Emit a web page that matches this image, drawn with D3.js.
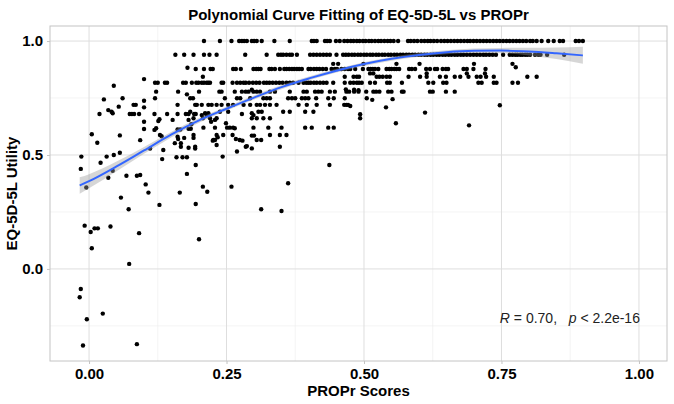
<!DOCTYPE html>
<html><head><meta charset="utf-8">
<script src="https://cdn.jsdelivr.net/npm/d3@7"></script>
<style>body{margin:0;background:#fff}svg{display:block}</style>
</head><body>
<script>
// ---------- data ----------
const chartTitle = "Polynomial Curve Fitting of EQ-5D-5L vs PROPr";
const xTitle = "PROPr Scores";
const yTitle = "EQ-5D-5L Utility";
const xTicks = [0, 0.25, 0.5, 0.75, 1.0];
const xTickLabels = ["0.00", "0.25", "0.50", "0.75", "1.00"];
const yTicks = [0, 0.5, 1.0];
const yTickLabels = ["0.0", "0.5", "1.0"];
const xMinor = [0.125, 0.375, 0.625, 0.875];
const yMinor = [-0.25, 0.25, 0.75];
const xLimits = [-0.071, 1.051];
const yLimits = [-0.404, 1.066];

// fitted polynomial curve and its confidence band
const fitX  = [-0.017, 0.0, 0.05, 0.1, 0.15, 0.2, 0.25, 0.3, 0.35, 0.4, 0.45, 0.5, 0.55, 0.6, 0.65, 0.7, 0.75, 0.8, 0.85, 0.898];
const fitY  = [0.366, 0.385, 0.45, 0.52, 0.59, 0.652, 0.703, 0.752, 0.798, 0.836, 0.870, 0.899, 0.922, 0.939, 0.951, 0.957, 0.958, 0.954, 0.946, 0.937];
const fitLo = [0.330, 0.354, 0.429, 0.505, 0.578, 0.642, 0.694, 0.743, 0.789, 0.828, 0.862, 0.891, 0.914, 0.931, 0.942, 0.947, 0.946, 0.937, 0.921, 0.900];
const fitHi = [0.402, 0.416, 0.471, 0.535, 0.602, 0.662, 0.712, 0.761, 0.807, 0.844, 0.878, 0.907, 0.930, 0.947, 0.960, 0.967, 0.970, 0.971, 0.972, 0.975];

// PROPr scores of respondents with utility 1.000
const propr100 = [0.209,0.238,0.259,0.273,0.278,0.282,0.287,0.296,0.300,0.305,0.314,0.337,0.365,0.405,0.409,0.414,0.429,0.433,0.438,0.449,0.456,0.464,0.470,
 0.476,0.481,0.487,0.492,0.498,0.503,0.509,0.514,0.520,0.526,0.531,0.537,0.543,0.548,0.554,0.562,
 0.580,0.585,0.591,0.597,0.604,0.610,0.616,0.621,0.627,0.633,0.640,0.646,0.652,0.658,0.664,0.670,0.676,0.682,0.688,0.693,
 0.699,0.705,0.711,0.717,0.723,0.729,0.735,0.741,0.747,0.753,0.759,0.765,0.771,0.777,0.783,0.789,0.795,0.802,0.807,0.814,0.823,0.835,0.845,0.856,0.862,0.885,0.891,0.898];
// PROPr scores of respondents with utility 0.940
const propr094 = [0.157,0.173,0.190,0.209,0.219,0.232,0.284,0.323,0.344,0.349,0.353,0.359,0.365,0.369,0.378,0.402,0.408,0.414,0.420,0.426,0.432,0.438,0.450,
 0.462,0.467,0.472,0.478,0.483,0.489,0.494,0.500,0.505,0.511,0.516,0.522,0.527,0.533,0.538,0.544,0.549,0.555,0.560,0.566,0.571,0.577,0.582,0.588,0.593,0.599,
 0.604,0.610,0.615,0.621,0.626,0.632,0.637,0.643,0.648,0.654,0.659,0.665,0.670,0.676,0.681,0.687,0.693,0.699,0.705,0.711,0.717,0.722,0.728,0.734,0.740,
 0.753,0.765,0.770,0.775,0.779,0.784,0.788,0.793,0.797,0.802,0.811,0.817,0.821,0.833,0.864];
// PROPr scores of respondents with utility 0.877
const propr088 = [0.194,0.209,0.221,0.225,0.262,0.267,0.276,0.299,0.304,0.308,0.312,0.328,0.332,0.338,0.347,0.355,0.359,0.364,0.369,0.373,0.378,0.382,0.387,
 0.399,0.403,0.409,0.414,0.419,0.425,0.431,0.441,0.447,0.451,0.459,0.465,0.471,0.475,0.484,0.498,0.508,0.512,0.516,0.520,0.526,0.541,0.546,0.550,0.555,
 0.559,0.564,0.582,0.587,0.593,0.613,0.620,0.629,0.633,0.643,0.649,0.653,0.681,0.687,0.699,0.721];
// PROPr scores of respondents with utility 0.843
const propr084 = [0.207,0.465,0.481,0.487,0.491,0.523,0.528,0.534,0.541,0.547,0.581,0.602,0.614,0.638,0.649,0.665,0.675,0.690,0.705,0.712,0.722,0.736,0.797,0.814];
// PROPr scores of respondents with utility 0.817
const propr082 = [0.120,0.125,0.138,0.142,0.171,0.176,0.187,0.195,0.199,0.205,0.209,0.214,0.217,0.220,0.241,0.244,0.261,0.269,0.275,0.281,0.285,0.291,0.298,
 0.304,0.310,0.318,0.323,0.328,0.334,0.340,0.346,0.352,0.359,0.365,0.371,0.381,0.390,0.395,0.399,0.403,0.409,0.414,0.420,0.426,0.432,0.444,0.465,0.475,
 0.481,0.487,0.491,0.496,0.511,0.520,0.542,0.547,0.569,0.617,0.626,0.644,0.650,0.708,0.714,0.736,0.741,0.770,0.780];
// PROPr scores of respondents with utility 0.778
const propr078 = [0.122,0.162,0.200,0.237,0.241,0.265,0.278,0.285,0.290,0.299,0.305,0.311,0.329,0.338,0.365,0.390,0.396,0.411,0.417,0.423,0.438,0.447,0.468,
 0.473,0.482,0.490,0.504,0.517,0.522,0.528,0.544,0.550,0.569,0.572,0.620,0.625,0.649,0.665];
// PROPr scores of respondents with utility 0.749
const propr075 = [0.061,0.120,0.184,0.189,0.247,0.269,0.275,0.293,0.317,0.323,0.329,0.362,0.369,0.375,0.387,0.393,0.399,0.413,0.435,0.445,0.465,0.505];
// PROPr scores of respondents with utility 0.720
const propr072 = [0.081,0.085,0.161,0.193,0.196,0.205,0.217,0.223,0.232,0.241,0.253,0.262,0.281,0.293,0.305,0.311,0.320,0.329,0.341,0.381,0.396,0.414,0.438,0.464,0.468,0.471];
// remaining respondents: [PROPr score, utility]
const otherPoints = [
 [0.179,0.883],[0.776,0.885],[0.444,0.9],[0.453,0.9],[0.499,0.9],[0.559,0.9],[0.601,0.9],[0.700,0.9],[0.770,0.9],
 [0.511,0.858],[0.517,0.858],[0.614,0.858],[0.687,0.858],[0.720,0.858],[0.100,0.833],[0.045,0.804],
 [0.178,0.766],[0.467,0.788],[0.482,0.786],[0.490,0.784],[0.296,0.786],
 [0.027,0.744],[0.100,0.738],[0.515,0.742],[0.552,0.745],
 [0.054,0.712],[0.100,0.709],[0.475,0.715],[0.540,0.709],[0.747,0.718],
 [0.035,0.697],[0.041,0.69],[0.043,0.683],[0.019,0.68],[0.074,0.68],[0.078,0.68],[0.082,0.68],[0.091,0.68],[0.119,0.68],[0.142,0.68],
 [0.161,0.68],[0.176,0.68],[0.181,0.68],[0.191,0.68],[0.194,0.68],[0.211,0.683],[0.217,0.683],[0.205,0.675],[0.214,0.675],[0.278,0.68],
 [0.296,0.683],[0.299,0.675],[0.184,0.69],[0.238,0.69],[0.253,0.69],[0.308,0.69],[0.314,0.69],[0.353,0.69],[0.365,0.69],[0.393,0.69],
 [0.408,0.69],[0.611,0.686],[0.493,0.679],
 [0.128,0.657],[0.126,0.649],[0.100,0.646],[0.152,0.654],[0.181,0.654],[0.186,0.635],[0.190,0.661],[0.207,0.661],[0.220,0.661],[0.232,0.661],
 [0.296,0.661],[0.305,0.661],[0.317,0.661],[0.329,0.661],[0.222,0.646],[0.229,0.654],[0.249,0.639],[0.493,0.661],[0.558,0.639],
 [0.122,0.617],[0.119,0.61],[0.100,0.614],[0.161,0.612],[0.166,0.612],[0.181,0.615],[0.185,0.615],[0.256,0.62],[0.265,0.617],[0.208,0.62],
 [0.229,0.62],[0.251,0.62],[0.262,0.62],[0.299,0.62],[0.326,0.62],[0.350,0.62],[0.393,0.62],[0.405,0.62],[0.435,0.62],[0.445,0.62],[0.691,0.63],
 [0.005,0.591],[0.056,0.586],[0.129,0.588],[0.132,0.582],[0.161,0.58],[0.162,0.57],[0.173,0.575],[0.190,0.575],[0.232,0.588],[0.234,0.578],
 [0.229,0.566],[0.225,0.563],[0.244,0.588],[0.261,0.588],[0.267,0.57],[0.279,0.563],[0.296,0.585],[0.300,0.585],[0.190,0.588],[0.329,0.588],
 [0.347,0.588],[0.359,0.588],[0.226,0.566],[0.274,0.566],[0.305,0.566],[0.313,0.566],[0.093,0.565],[0.015,0.554],[0.156,0.552],[0.167,0.552],
 [0.181,0.532],[0.193,0.528],[0.111,0.528],[0.167,0.536],[0.135,0.522],[0.232,0.544],[0.287,0.539],[0.296,0.529],[0.269,0.515],[0.285,0.536],
 [0.347,0.536],[0.193,0.536],
 [0.056,0.51],[0.045,0.5],[0.032,0.493],[-0.014,0.493],[0.159,0.49],[0.170,0.49],[0.178,0.49],[0.133,0.482],[0.243,0.493],
 [0.021,0.466],[0.194,0.456],[0.437,0.456],[0.043,0.431],[-0.015,0.439],[0.178,0.417],[0.035,0.4],[0.068,0.409],[0.087,0.409],[0.093,0.412],
 [0.362,0.376],[0.103,0.371],[-0.005,0.357],[0.207,0.361],[0.259,0.361],[0.108,0.335],[0.165,0.335],[0.215,0.339],[0.058,0.313],[0.128,0.281],
 [0.194,0.285],[0.072,0.262],[0.313,0.262],[0.350,0.254],
 [-0.008,0.19],[0.003,0.162],[0.010,0.178],[0.016,0.178],[0.039,0.186],[0.091,0.157],[0.200,0.13],[0.005,0.091],[0.073,0.022],
 [-0.015,-0.088],[-0.017,-0.124],[-0.004,-0.221],[0.025,-0.196],[-0.011,-0.336],[0.087,-0.33]
];
const annotationR = "0.70";
const annotationP = "2.2e-16";

// ---------- build ----------
const points = [].concat(
  propr100.map(x => [x, 1.0]),
  propr094.map(x => [x, 0.94]),
  propr088.map(x => [x, 0.877]),
  propr084.map(x => [x, 0.843]),
  propr082.map(x => [x, 0.817]),
  propr078.map(x => [x, 0.778]),
  propr075.map(x => [x, 0.749]),
  propr072.map(x => [x, 0.72]),
  otherPoints
);
const fit = fitX.map((x, i) => ({x, y: fitY[i], lo: fitLo[i], hi: fitHi[i]}));

const W = 674, H = 404;
const panel = {left: 50, right: 667, top: 26, bottom: 361};
const font = "'Liberation Sans', Arial, sans-serif";

const svg = d3.select("body").append("svg").attr("width", W).attr("height", H)
  .style("font-family", font);
svg.append("rect").attr("width", W).attr("height", H).attr("fill", "#fff");

const x = d3.scaleLinear().domain(xLimits).range([panel.left, panel.right]);
const y = d3.scaleLinear().domain(yLimits).range([panel.bottom, panel.top]);

const g = svg.append("g");
// minor grid
g.selectAll(".xminor").data(xMinor).join("line")
  .attr("x1", d => x(d)).attr("x2", d => x(d)).attr("y1", panel.top).attr("y2", panel.bottom)
  .attr("stroke", "#ececec").attr("stroke-width", 0.6);
g.selectAll(".yminor").data(yMinor).join("line")
  .attr("y1", d => y(d)).attr("y2", d => y(d)).attr("x1", panel.left).attr("x2", panel.right)
  .attr("stroke", "#ececec").attr("stroke-width", 0.6);
// major grid
g.selectAll(".xmajor").data(xTicks).join("line")
  .attr("x1", d => x(d)).attr("x2", d => x(d)).attr("y1", panel.top).attr("y2", panel.bottom)
  .attr("stroke", "#dedede").attr("stroke-width", 1);
g.selectAll(".ymajor").data(yTicks).join("line")
  .attr("y1", d => y(d)).attr("y2", d => y(d)).attr("x1", panel.left).attr("x2", panel.right)
  .attr("stroke", "#dedede").attr("stroke-width", 1);

// points
g.append("g").selectAll("circle").data(points).join("circle")
  .attr("cx", d => x(d[0])).attr("cy", d => y(d[1])).attr("r", 2.2).attr("fill", "#000");

// ribbon + fit line
g.append("path").datum(fit)
  .attr("d", d3.area().x(d => x(d.x)).y0(d => y(d.lo)).y1(d => y(d.hi)).curve(d3.curveMonotoneX))
  .attr("fill", "#999999").attr("fill-opacity", 0.4);
g.append("path").datum(fit)
  .attr("d", d3.line().x(d => x(d.x)).y(d => y(d.y)).curve(d3.curveMonotoneX))
  .attr("fill", "none").attr("stroke", "#3366FF").attr("stroke-width", 2);

// annotation
const ann = g.append("text").attr("x", x(0.747)).attr("y", y(-0.237))
  .attr("font-size", 14).attr("fill", "#222").style("white-space", "pre");
ann.append("tspan").attr("font-style", "italic").text("R");
ann.append("tspan").text(" = " + annotationR + ",\u00A0\u00A0\u00A0");
ann.append("tspan").attr("font-style", "italic").text("p");
ann.append("tspan").text(" < " + annotationP);

// panel border
svg.append("rect").attr("x", panel.left).attr("y", panel.top)
  .attr("width", panel.right - panel.left).attr("height", panel.bottom - panel.top)
  .attr("fill", "none").attr("stroke", "#c4c4c4").attr("stroke-width", 1);

// axes
const xAxis = d3.axisBottom(x).tickValues(xTicks).tickFormat((d, i) => xTickLabels[i]).tickSize(3).tickPadding(4);
const yAxis = d3.axisLeft(y).tickValues(yTicks).tickFormat((d, i) => yTickLabels[i]).tickSize(3).tickPadding(4);
const gx = svg.append("g").attr("transform", `translate(0,${panel.bottom})`).call(xAxis);
const gy = svg.append("g").attr("transform", `translate(${panel.left},0)`).call(yAxis);
[gx, gy].forEach(a => {
  a.select(".domain").remove();
  a.selectAll(".tick line").attr("stroke", "#c4c4c4");
  a.selectAll(".tick text").attr("font-family", font).attr("font-size", 15)
    .attr("font-weight", "bold").attr("fill", "#000");
});

// titles
svg.append("text").attr("x", (panel.left + panel.right) / 2).attr("y", 20)
  .attr("text-anchor", "middle").attr("font-size", 15).attr("font-weight", "bold").text(chartTitle);
svg.append("text").attr("x", (panel.left + panel.right) / 2).attr("y", 396)
  .attr("text-anchor", "middle").attr("font-size", 15).attr("font-weight", "bold").text(xTitle);
svg.append("text").attr("transform", `translate(17,${(panel.top + panel.bottom) / 2}) rotate(-90)`)
  .attr("text-anchor", "middle").attr("font-size", 15).attr("font-weight", "bold").text(yTitle);
</script>
</body></html>
